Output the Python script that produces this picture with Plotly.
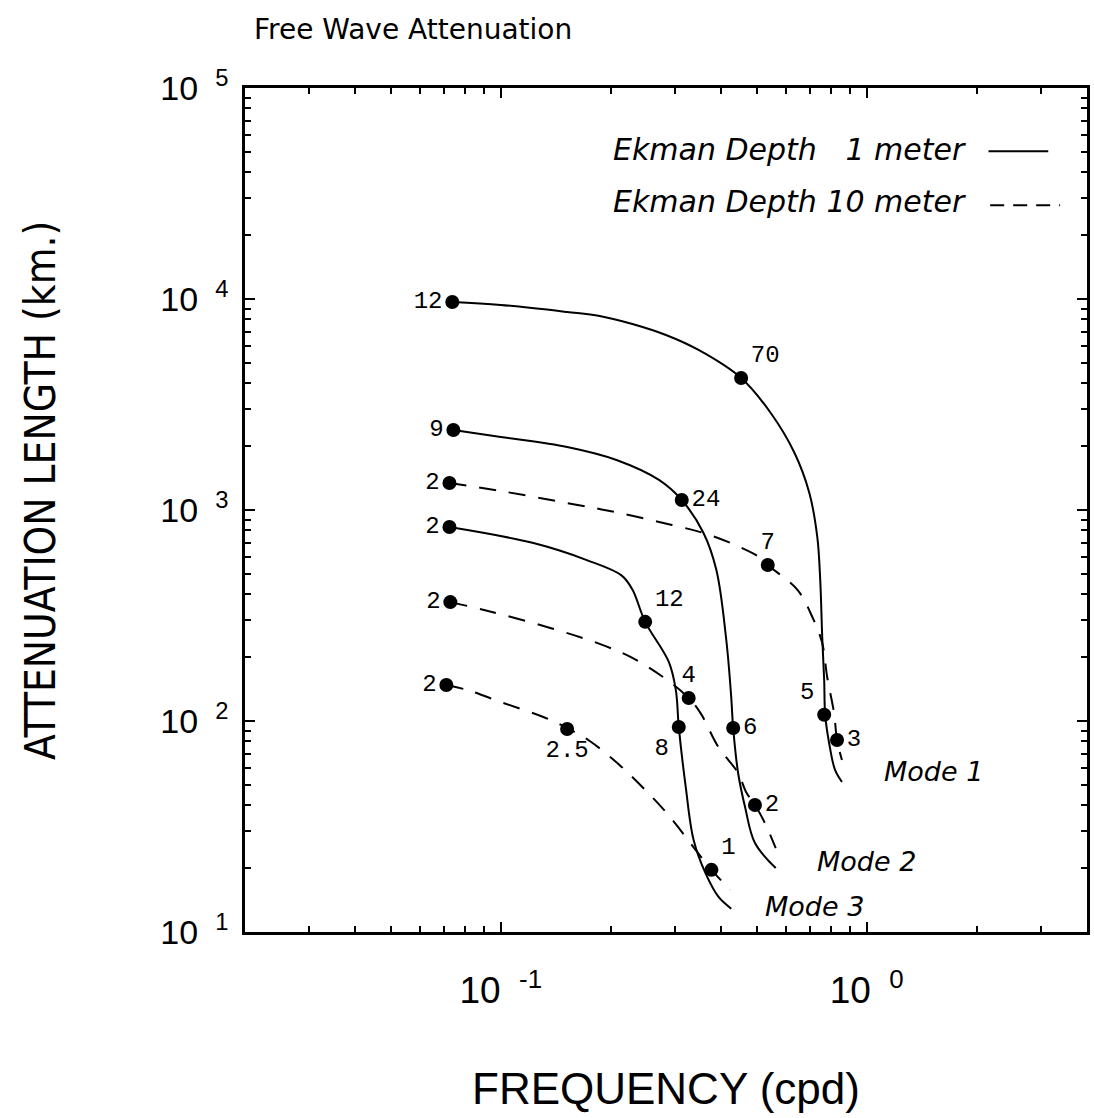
import math
import plotly.graph_objects as go

# ---------------- data ----------------
# Mode 1, Ekman depth 1 m (solid)
m1_solid_freq = [0.0737, 0.100, 0.1518, 0.1863, 0.2289, 0.2827, 0.3471, 0.4537, 0.5467, 0.6350, 0.6970,
                 0.7327, 0.7464, 0.7558, 0.7652, 0.7700, 0.7893, 0.8193, 0.8557]
m1_solid_len = [9680, 9370, 8680, 8308, 7611, 6751, 5733, 4223, 2882, 1863, 1204,
                745, 466, 250, 156, 107, 78.7, 58.6, 51.4]
# Mode 1, Ekman depth 10 m (dashed)
m1_dash_freq = [0.0724, 0.100, 0.1518, 0.2110, 0.2935, 0.3581, 0.4371, 0.5137, 0.5366, 0.6469,
                0.7102, 0.7558, 0.7796, 0.8143, 0.8296, 0.8557]
m1_dash_len = [1343, 1230, 1079, 968, 849, 778, 683, 592, 549, 418,
               311, 234, 162, 109, 81.3, 65.3]
# Mode 2, 1 m (solid)
m2_solid_freq = [0.0742, 0.100, 0.1518, 0.2071, 0.2706, 0.3123, 0.3581, 0.3883, 0.4133,
                 0.4263, 0.4316, 0.4452, 0.4651, 0.4950, 0.5641]
m2_solid_len = [2394, 2218, 1989, 1726, 1388, 1115, 778, 519, 242,
                130, 92.6, 56.7, 39.1, 26.4, 20.1]
# Mode 2, 10 m (dashed)
m2_dash_freq = [0.0728, 0.0900, 0.1365, 0.1863, 0.2289, 0.2757, 0.3262, 0.3515, 0.3932,
                0.4452, 0.4680, 0.4950, 0.5267, 0.5641]
m2_dash_len = [366, 336, 276, 232, 199, 163, 128.5, 109, 75.3,
               56.7, 46.1, 40.0, 32.9, 25.0]
# Mode 3, 1 m (solid)
m3_solid_freq = [0.0724, 0.1228, 0.1718, 0.2137, 0.2289, 0.2481, 0.2880, 0.3009, 0.3065,
                 0.3202, 0.3365, 0.3626, 0.3932, 0.4263]
m3_solid_len = [830, 697, 579, 490, 420, 295, 190, 140, 93.7,
                48.7, 27.3, 19.0, 14.7, 12.9]
# Mode 3, 10 m (dashed)
m3_dash_freq = [0.0710, 0.0814, 0.100, 0.1307, 0.1518, 0.1750, 0.2110, 0.2436, 0.2827,
                0.3202, 0.3581, 0.3764, 0.4236]
m3_dash_len = [148, 140, 123, 104.5, 92.6, 80.4, 61.9, 48.7, 37.0,
               28.2, 21.9, 19.7, 15.8]

# Marked points with their labels
m1_solid_pt_freq = [0.0737, 0.4537, 0.7652]
m1_solid_pt_len = [9680, 4223, 107]
m1_solid_pt_lab = ["12", "70", "5"]
m1_dash_pt_freq = [0.0724, 0.5366, 0.8296]
m1_dash_pt_len = [1343, 549, 81.3]
m1_dash_pt_lab = ["2", "7", "3"]
m2_solid_pt_freq = [0.0742, 0.3123, 0.4316]
m2_solid_pt_len = [2394, 1115, 92.6]
m2_solid_pt_lab = ["9", "24", "6"]
m2_dash_pt_freq = [0.0728, 0.3262, 0.4950]
m2_dash_pt_len = [366, 128.5, 40.0]
m2_dash_pt_lab = ["2", "4", "2"]
m3_solid_pt_freq = [0.0724, 0.2481, 0.3065]
m3_solid_pt_len = [830, 295, 93.7]
m3_solid_pt_lab = ["2", "12", "8"]
m3_dash_pt_freq = [0.0710, 0.1518, 0.3764]
m3_dash_pt_len = [148, 91.6, 19.7]
m3_dash_pt_lab = ["2", "2.5", "1"]

mode_names = ["Mode 1", "Mode 2", "Mode 3"]
mode_label_freq = [1.52, 1.0, 0.72]
mode_label_len = [57.5, 21.5, 13.2]

x_tick_vals = [0.1, 1]
x_tick_exp = ["-1", "0"]
y_tick_vals = [10, 100, 1000, 10000, 100000]
y_tick_exp = ["1", "2", "3", "4", "5"]

legend_labels = ["Ekman Depth \u20071 meter", "Ekman Depth 10 meter"]

# ---------------- figure ----------------
fig = go.Figure()
DASH = "17px,13px"
curves = [
    (m1_solid_freq, m1_solid_len, "solid"),
    (m1_dash_freq, m1_dash_len, DASH),
    (m2_solid_freq, m2_solid_len, "solid"),
    (m2_dash_freq, m2_dash_len, DASH),
    (m3_solid_freq, m3_solid_len, "solid"),
    (m3_dash_freq, m3_dash_len, DASH),
]
for fx, fy, dash in curves:
    fig.add_trace(go.Scatter(x=fx, y=fy, mode="lines",
                             line=dict(color="black", width=2, dash=dash, shape="spline", smoothing=1.0),
                             showlegend=False, hoverinfo="skip"))

pts = [
    (m1_solid_pt_freq, m1_solid_pt_len, m1_solid_pt_lab, ["middle left", "top right", "top left"]),
    (m1_dash_pt_freq, m1_dash_pt_len, m1_dash_pt_lab, ["middle left", "top center", "middle right"]),
    (m2_solid_pt_freq, m2_solid_pt_len, m2_solid_pt_lab, ["middle left", "middle right", "middle right"]),
    (m2_dash_pt_freq, m2_dash_pt_len, m2_dash_pt_lab, ["middle left", "top center", "middle right"]),
    (m3_solid_pt_freq, m3_solid_pt_len, m3_solid_pt_lab, ["middle left", "top right", "bottom left"]),
    (m3_dash_pt_freq, m3_dash_pt_len, m3_dash_pt_lab, ["middle left", "bottom center", "top right"]),
]
for fx, fy, lab, tpos in pts:
    fig.add_trace(go.Scatter(x=fx, y=fy, mode="markers+text", text=lab, textposition=tpos,
                             marker=dict(color="black", size=14),
                             textfont=dict(family="Liberation Mono, DejaVu Sans Mono, monospace",
                                           size=24, color="black"),
                             showlegend=False, hoverinfo="skip"))

for name, fx, fy in zip(mode_names, mode_label_freq, mode_label_len):
    fig.add_annotation(x=math.log10(fx), y=math.log10(fy), xref="x", yref="y", text=name,
                       showarrow=False,
                       font=dict(family="DejaVu Sans, sans-serif", size=27, color="black", style="italic"))

# legend text and line samples
leg_font = dict(family="DejaVu Sans, sans-serif", size=30, color="black", style="italic")
fig.add_annotation(x=0.435, y=0.927, xref="paper", yref="paper", text=legend_labels[0],
                   showarrow=False, xanchor="left", yanchor="middle", font=leg_font)
fig.add_annotation(x=0.435, y=0.866, xref="paper", yref="paper", text=legend_labels[1],
                   showarrow=False, xanchor="left", yanchor="middle", font=leg_font)
fig.add_shape(type="line", xref="paper", yref="paper", x0=0.883, x1=0.954, y0=0.925, y1=0.925,
              line=dict(color="black", width=2))
fig.add_shape(type="line", xref="paper", yref="paper", x0=0.885, x1=0.968, y0=0.861, y1=0.861,
              line=dict(color="black", width=2, dash="14px,9px"))

# titles
fig.add_annotation(x=0.008, y=1.0, xref="paper", yref="paper", yanchor="bottom", xanchor="left",
                   yshift=40, text="Free Wave Attenuation", showarrow=False,
                   font=dict(family="DejaVu Sans, sans-serif", size=28, color="black"))
fig.add_annotation(x=0.5, y=0, xref="paper", yref="paper", yanchor="middle", xanchor="center",
                   yshift=-156, text="FREQUENCY (cpd)", showarrow=False,
                   font=dict(family="Liberation Sans, sans-serif", size=44, color="black"))
fig.add_annotation(x=0, y=0.5225, xref="paper", yref="paper", xanchor="center", yanchor="middle",
                   xshift=-205, text="ATTENUATION LENGTH (km.)", showarrow=False, textangle=-90,
                   font=dict(family="Liberation Sans Narrow, DejaVu Sans Condensed, Liberation Sans, sans-serif",
                             size=42, color="black"))

minor_x = [m * 10.0 ** e for e in range(-2, 1) for m in range(2, 10)]
minor_y = [m * 10.0 ** e for e in range(1, 5) for m in range(2, 10)]

fig.update_xaxes(type="log", range=[-1.699, 0.602],
                 tickvals=x_tick_vals,
                 ticktext=[f"10\u2002<sup>{e}</sup>" for e in x_tick_exp],
                 ticks="inside", ticklen=10, tickwidth=2, tickcolor="black",
                 minor=dict(tickvals=minor_x, ticks="inside", ticklen=6, tickwidth=1.5, tickcolor="black"),
                 showline=True, linewidth=2.5, linecolor="black", mirror="allticks",
                 showgrid=False, zeroline=False, ticklabelstandoff=24,
                 tickfont=dict(family="Liberation Sans, sans-serif", size=37, color="black"))
fig.update_yaxes(type="log", range=[1, 5],
                 tickvals=y_tick_vals,
                 ticktext=[f"10\u2002<sup>{e}</sup>" for e in y_tick_exp],
                 ticks="inside", ticklen=10, tickwidth=2, tickcolor="black",
                 minor=dict(tickvals=minor_y, ticks="inside", ticklen=6, tickwidth=1.5, tickcolor="black"),
                 showline=True, linewidth=2.5, linecolor="black", mirror="allticks",
                 showgrid=False, zeroline=False, ticklabelstandoff=7,
                 tickfont=dict(family="Liberation Sans, sans-serif", size=34, color="black"))

fig.update_layout(width=1094, height=1118, margin=dict(l=245, r=4, t=88, b=186),
                  paper_bgcolor="white", plot_bgcolor="white", showlegend=False)

fig.write_html("out.html")
